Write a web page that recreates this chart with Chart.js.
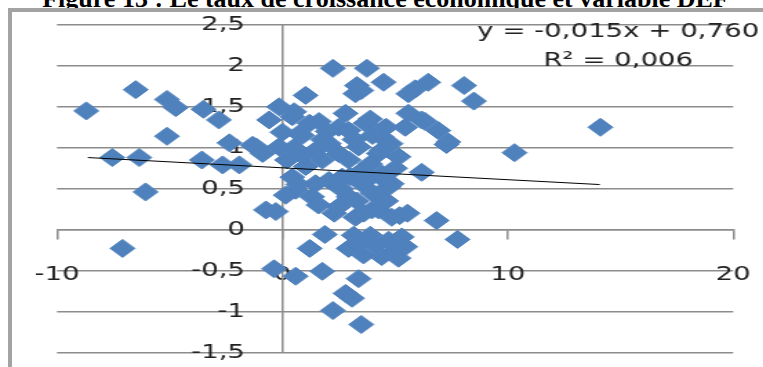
<!DOCTYPE html>
<html>
<head>
<meta charset="utf-8">
<script src="https://cdn.jsdelivr.net/npm/chart.js@4.4.1/dist/chart.umd.min.js"></script>
<style>
  html, body { margin:0; padding:0; background:#fff; width:763px; height:367px; overflow:hidden; position:relative; }
  #title { position:absolute; left:4px; top:-16px; width:763px; text-align:center; white-space:nowrap;
           font:bold 26px "Liberation Serif", "Times New Roman", serif; color:#000; }
  #frame { position:absolute; left:8px; top:8px; width:820px; height:420px; border:4px solid #a3a3a3; box-sizing:border-box; }
  /* the source picture is stretched sideways, so the chart is drawn narrow and widened */
  #wrap { position:absolute; left:0; top:0; width:568px; height:367px; transform:scaleX(1.38); transform-origin:0 0; }
  #chart { display:block; }
</style>
</head>
<body>
<div id="title">Figure 13 : Le taux de croissance économique et variable DEF</div>
<div id="frame"></div>
<div id="wrap"><canvas id="chart" width="568" height="367"></canvas></div>
<script>
// DEF (x) and taux de croissance (y)
const defValues = [
  -8.70, -6.51, -5.12, -4.73, -3.50, -2.82, -5.12, -2.35, -7.55, -6.35,
  -3.57, -2.65, -1.91, -6.07, -7.09, -0.73, -0.29, -0.37, 0.59, 1.88,
  1.21, 1.77, 3.38, 2.80, 3.09, 2.24, 3.50, 2.94, 3.38, 3.60,
  4.12, 4.41, 4.71, 5.00, 5.15, 5.30, 5.45, 3.16, 3.90, 6.84,
  7.77, 5.20, 5.55, 10.30, 14.11, 7.28, 6.18, 2.24, 3.75, 4.49,
  3.31, 3.24, 3.50, 1.03, 6.47, 5.89, 5.59, 8.06, 8.50, -0.15,
  -0.59, 0.44, 1.62, 2.80, 2.50, 0.74, -1.32, 0.52, 0.00, 0.88,
  2.94, 3.68, 4.41, 5.45, 5.59, 6.33, 6.92, 7.36, -1.17, 1.47,
  2.50, 3.38, 4.41, 5.15, 2.06, 6.18, 0.44, 1.47, 2.65, 3.53,
  4.71, -0.88, 0.59, 1.32, 2.06, 2.50, 2.94, 3.24, 3.97, 4.27,
  3.80, 4.56, 4.85, 1.77, 2.94, 4.27, 1.03, -0.15, 3.53, 4.41,
  4.85, 4.27, 0.20, 0.90, 3.00, 3.90, 4.00, 3.30, 2.60, 1.60,
  4.60, 2.00, 1.20, 3.20, 4.00, 4.80, 3.90, 4.60, 0.50, 1.80,
  5.00, 0.70, 3.60, 2.30, 0.15
];
const growthValues = [
  1.45, 1.71, 1.59, 1.49, 1.47, 1.34, 1.14, 1.06, 0.88, 0.88,
  0.85, 0.79, 0.79, 0.46, -0.23, 0.24, 0.22, -0.48, -0.57, -0.06,
  -0.23, -0.51, -0.60, -0.78, -0.84, -0.99, -1.16, -0.23, -0.17, -0.31,
  -0.19, -0.33, -0.13, -0.25, -0.35, -0.09, -0.21, -0.07, -0.07, 0.11,
  -0.12, 0.17, 0.20, 0.94, 1.25, 1.04, 0.70, 1.97, 1.97, 1.80,
  1.76, 1.66, 1.70, 1.64, 1.80, 1.72, 1.66, 1.76, 1.57, 1.50,
  1.34, 1.38, 1.32, 1.42, 1.25, 1.17, 1.03, 1.44, 1.19, 1.15,
  1.21, 1.30, 1.13, 1.25, 1.42, 1.32, 1.21, 1.07, 1.01, 0.97,
  0.93, 1.01, 0.97, 0.89, 1.05, 1.34, 0.64, 0.56, 0.64, 0.56,
  0.52, 0.93, 0.48, 0.40, 0.60, 0.28, 0.40, 0.15, 0.24, 0.40,
  0.62, 0.60, 0.15, 0.85, 0.85, 0.93, 0.77, 1.01, 0.72, 0.68,
  0.56, 0.24, 0.85, 0.90, 0.65, 0.80, 0.45, 0.35, 0.50, 0.30,
  0.35, 1.20, 1.30, 1.10, 1.15, 1.05, 1.35, 1.25, 1.00, 1.10,
  0.75, 0.55, 0.20, 0.20, 0.42
];
// linear trendline, ends
const trendX = [-8.63, 14.08];
const trendY = [0.88, 0.55];

const xTickValues = [-10, 0, 10, 20];
const yTickValues = [-1.5, -1, -0.5, 0, 0.5, 1, 1.5, 2, 2.5];
const equationLines = ['y = -0,015x + 0,760', 'R² = 0,006'];

const gridColor = '#8c8c8c';
const textColor = '#222';
const tickFont = { family: 'DejaVu Sans', size: 20 };

const points = defValues.map((x, i) => ({ x, y: growthValues[i] }));
const trend = trendX.map((x, i) => ({ x, y: trendY[i] }));

// equation of the trendline, top right
const equationPlugin = {
  id: 'equation',
  afterDatasetsDraw(chart) {
    const { ctx, scales } = chart;
    const cx = scales.x.getPixelForValue(14.9);
    ctx.save();
    ctx.font = '20px "DejaVu Sans"';
    ctx.fillStyle = textColor;
    ctx.textAlign = 'center';
    ctx.textBaseline = 'middle';
    ctx.fillText(equationLines[0], cx, scales.y.getPixelForValue(2.42));
    ctx.fillText(equationLines[1], cx, scales.y.getPixelForValue(2.06));
    ctx.restore();
  }
};

new Chart(document.getElementById('chart'), {
  type: 'scatter',
  data: {
    datasets: [
      {
        label: 'Linéaire',
        data: trend,
        showLine: true,
        borderColor: '#000',
        borderWidth: 1,
        pointRadius: 0
      },
      {
        label: 'Croissance',
        data: points,
        pointStyle: 'rectRot',
        pointRadius: 9,
        pointHoverRadius: 9,
        backgroundColor: '#4f81bd',
        borderColor: '#4f81bd',
        borderWidth: 1
      }
    ]
  },
  options: {
    responsive: false,
    animation: false,
    // x tick padding also pads the right side, so the canvas runs past the page edge
    layout: { padding: { left: 41.3, right: 0, top: 25, bottom: 14.7 } },
    plugins: { legend: { display: false }, tooltip: { enabled: false } },
    scales: {
      x: {
        type: 'linear',
        min: -10, max: 20,
        position: { y: 0 },
        afterBuildTicks: s => { s.ticks = xTickValues.map(v => ({ value: v })); },
        grid: { drawOnChartArea: false, color: gridColor, tickLength: 9, lineWidth: 1.5 },
        border: { display: true, color: gridColor, width: 1.5 },
        ticks: { font: tickFont, color: textColor, padding: 24, maxRotation: 0 }
      },
      y: {
        type: 'linear',
        min: -1.5, max: 2.5,
        // labels sit a little left of the vertical axis
        position: { x: -1.66 },
        afterBuildTicks: s => { s.ticks = yTickValues.map(v => ({ value: v })); },
        grid: { color: gridColor, lineWidth: 1.5, drawTicks: false },
        border: { display: false },
        ticks: {
          font: tickFont, color: textColor, padding: 0,
          callback: v => String(v).replace('.', ',')
        }
      },
      // the vertical axis line itself, crossing at DEF = 0
      yLine: {
        type: 'linear',
        axis: 'y',
        min: -1.5, max: 2.5,
        position: { x: 0 },
        grid: { display: false },
        ticks: { display: false },
        border: { display: true, color: gridColor, width: 1.5 }
      }
    }
  },
  plugins: [equationPlugin]
});
</script>
</body>
</html>
